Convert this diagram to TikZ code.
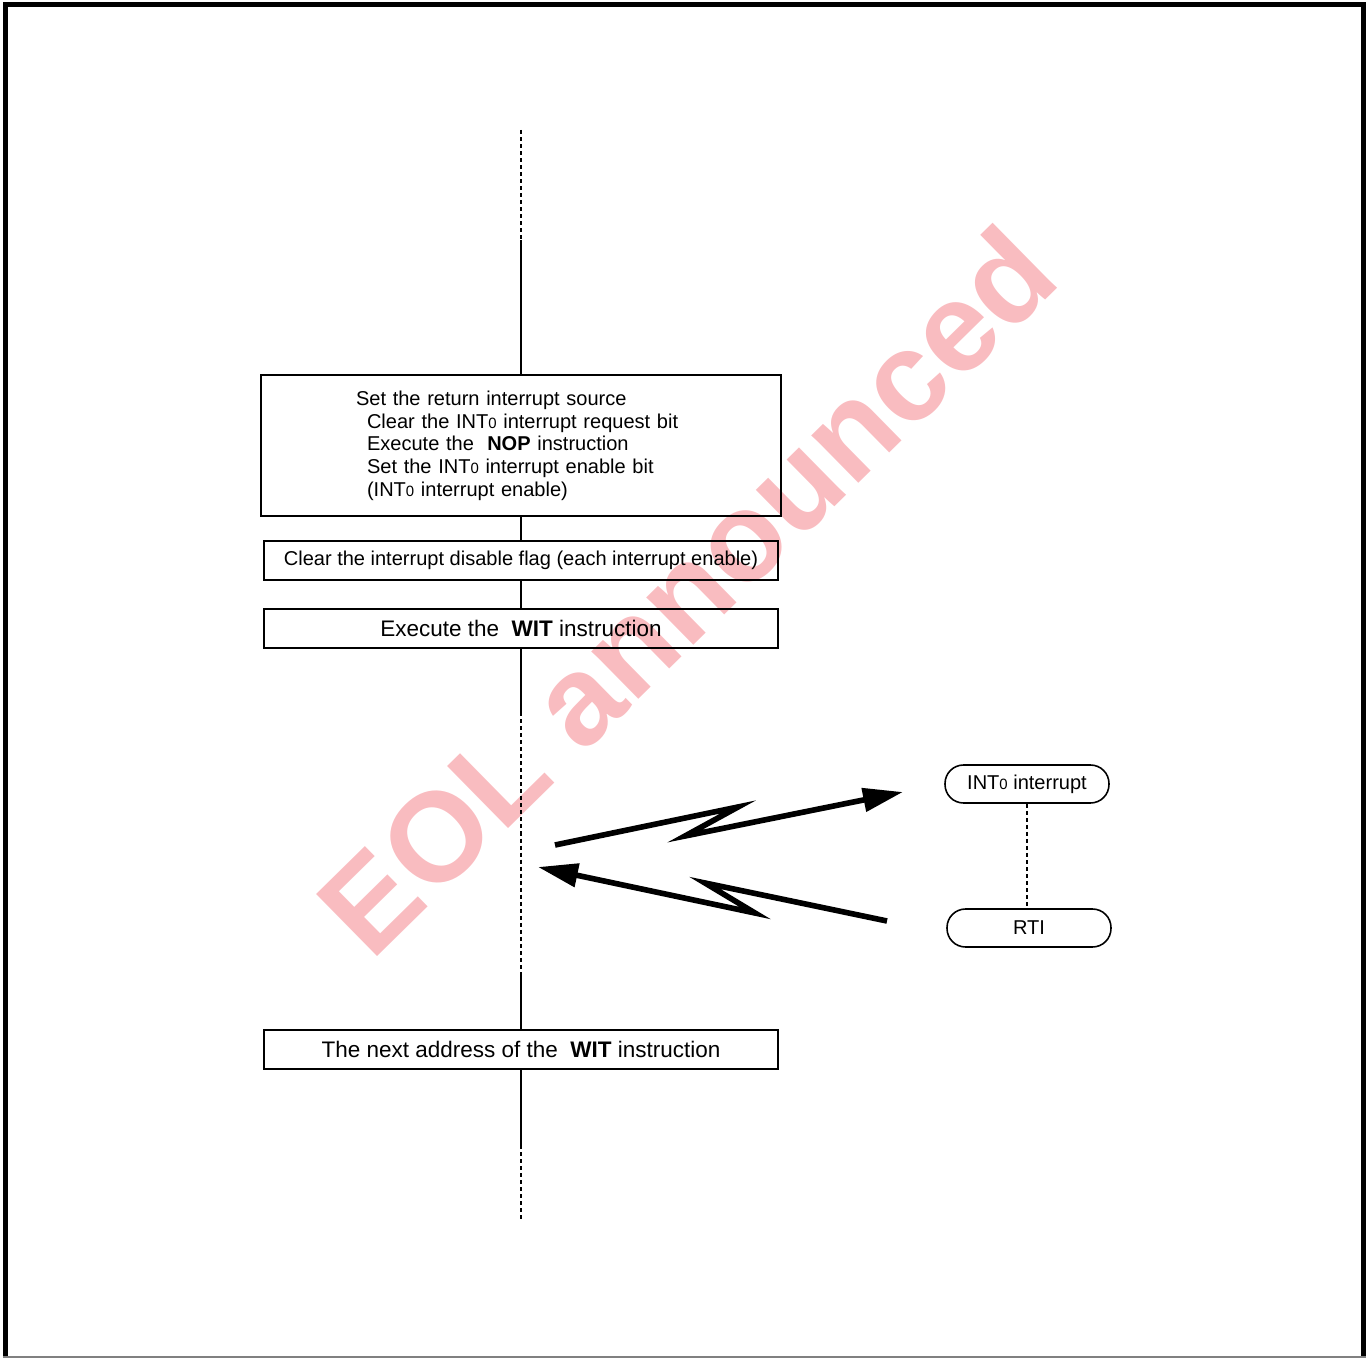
\documentclass[tikz,border=0pt]{standalone}
\usepackage{fontspec}
\setmainfont{Liberation Sans}
\usetikzlibrary{arrows.meta,positioning}
\definecolor{eolred}{RGB}{249,188,192}
\newcommand{\intz}{INT{\fontsize{8.5}{8.5}\selectfont 0}}
\newcommand{\ind}{\hspace*{0.22cm}}

\begin{document}
\begin{tikzpicture}[
x=0.02cm, y=-0.02cm,
font=\fontsize{11.4}{12.9}\selectfont,
stepbox/.style={draw=black, line width=1.1pt, align=center, inner sep=0pt, minimum width=10.3cm, minimum height=0.78cm},
srcbox/.style={draw=black, line width=1.1pt, align=left, inner ysep=0pt, inner xsep=1.9cm, text width=6.6cm, minimum height=2.82cm},
bigtext/.style={font=\fontsize{12.8}{14}\selectfont},
endbox/.style={draw=black, line width=0.9pt, rounded corners=0.37cm, minimum width=3.28cm, minimum height=0.76cm, inner sep=0pt},
flow/.style={line width=0.8pt},
flowdash/.style={line width=0.8pt, dash pattern=on 2.3pt off 1.7pt},
bolt/.style={line width=3.2pt, -{Triangle[length=0.8cm,width=0.46cm]}},
watermark/.style={text=eolred, font=\fontsize{72}{72}\selectfont\bfseries, inner sep=0pt}
]
\useasboundingbox (0,0) rectangle (1369,1358);

\node[watermark, rotate=44.5] (eol) at (686,590) {EOL announced};

\draw[line width=0.1cm] (5.5,1358) -- (5.5,4.5) -- (1363,4.5) -- (1363,1358);
\draw[gray, line width=0.6pt] (3,1357) -- (1366,1357);

\node[srcbox] (ret) at (521,445.5) {Set the return interrupt source\\ \ind Clear the \intz{} interrupt request bit\\ \ind Execute the \ \textbf{NOP} instruction\\ \ind Set the \intz{} interrupt enable bit\\ \ind (\intz{} interrupt enable)};
\node[stepbox] (clr) at (521,560.5) {Clear the interrupt disable flag (each interrupt enable)};
\node[stepbox, bigtext] (wit) at (521,628.5) {Execute the \ \textbf{WIT} instruction};
\node[stepbox, bigtext] (next) at (521,1049.5) {The next address of the \ \textbf{WIT} instruction};

\node[endbox] (irq) at (1027,784) {\intz{} interrupt};
\node[endbox] (rti) at (1029,928) {RTI};

\coordinate (top) at (521,130);
\coordinate (topsolid) at (521,240);
\coordinate (waitA) at (521,712);
\coordinate (waitB) at (521,975);
\coordinate (botsolid) at (521,1145);
\coordinate (bot) at (521,1222);

\draw[flowdash] (top) -- (topsolid);
\draw[flow] (topsolid) -- (ret.north);
\draw[flow] (ret.south) -- (clr.north);
\draw[flow] (clr.south) -- (wit.north);
\draw[flow] (wit.south) -- (waitA);
\draw[flowdash] (waitA) -- (waitB);
\draw[flow] (waitB) -- (next.north);
\draw[flow] (next.south) -- (botsolid);
\draw[flowdash] (botsolid) -- (bot);

\draw[flowdash] (irq.south) -- (irq.south |- rti.north);

\coordinate (callS) at (555,845);
\coordinate (callE) at (903,792);
\coordinate (backS) at (887,921);
\coordinate (backE) at (538,867);

\draw[bolt] (callS) -- (738,807) -- (685,836) -- (callE);
\draw[bolt] (backS) -- (705,883) -- (755,913) -- (backE);
\end{tikzpicture}
\end{document}
